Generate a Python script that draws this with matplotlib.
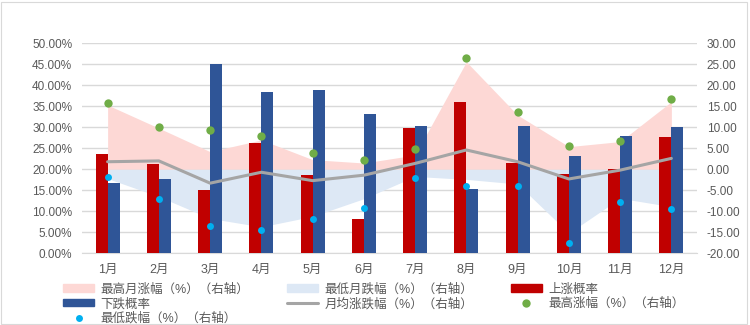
import numpy as np
import matplotlib
matplotlib.use('Agg')
import matplotlib.pyplot as plt
from matplotlib.patches import Rectangle
from matplotlib.ticker import FuncFormatter

plt.rcParams['font.family'] = ['Liberation Sans', 'Noto Sans CJK SC', 'DejaVu Sans']

months = ['1月', '2月', '3月', '4月', '5月', '6月', '7月', '8月', '9月', '10月', '11月', '12月']
up_prob = [23.6, 21.2, 15.0, 26.3, 18.6, 8.2, 29.9, 36.0, 21.5, 18.9, 20.1, 27.8]      # 上涨概率 %
down_prob = [16.8, 17.8, 45.0, 38.5, 39.0, 33.1, 30.3, 15.4, 30.3, 23.1, 28.0, 30.1]   # 下跌概率 %
max_month = [15.3, 9.8, 4.2, 7.0, 2.3, 1.5, 3.4, 25.6, 12.9, 5.4, 6.6, 16.1]           # 最高月涨幅 (右轴)
min_month = [-2.2, -6.5, -11.7, -13.7, -11.2, -7.0, -1.7, -2.4, -3.5, -15.2, -6.9, -8.9]  # 最低月跌幅 (右轴)
avg_chg = [1.8, 2.0, -3.3, -0.7, -2.7, -1.4, 1.4, 4.6, 1.8, -2.3, -0.2, 2.6]           # 月均涨跌幅 (右轴)
max_gain = [15.8, 10.1, 9.4, 7.9, 3.8, 2.1, 4.8, 26.4, 13.7, 5.6, 6.7, 16.7]           # 最高涨幅 (右轴)
min_loss = [-1.8, -7.1, -13.4, -14.4, -11.8, -9.1, -2.1, -4.0, -3.9, -17.5, -7.9, -9.5]  # 最低跌幅 (右轴)

x = np.arange(len(months))
txt = '#595959'
grid_c = '#D9D9D9'

fig = plt.figure(figsize=(7.5, 3.25), dpi=100)
fig.add_artist(Rectangle((1/750, 1.5/325), 746/750, 321.5/325, transform=fig.transFigure,
                         fill=False, edgecolor='#D9D9D9', lw=0.8))

pos = [82/750, 1-253.3/325, 615/750, 210/325]

# right axis: areas + grid
ax_r = fig.add_axes(pos)
ax_r.fill_between(x, 0, max_month, color='#FDD8D5', lw=0, zorder=1)
ax_r.fill_between(x, 0, min_month, color='#DDE8F5', lw=0, zorder=1)
ax_r.set_ylim(-20, 30)
ax_r.set_yticks(np.arange(-20, 31, 5))
ax_r.yaxis.set_major_formatter(FuncFormatter(lambda v, p: '%.2f' % v))
ax_r.grid(axis='y', color=grid_c, lw=1, zorder=0)
ax_r.set_axisbelow(True)
ax_r.set_xlim(-0.5, 11.5)
ax_r.set_xticks(x)
ax_r.set_xticklabels(months)
for s in ax_r.spines.values():
    s.set_visible(False)
ax_r.spines['bottom'].set_visible(True)
ax_r.spines['bottom'].set_color(grid_c)

# left axis: bars
ax_l = ax_r.twinx()
w = 0.235
ax_l.bar(x - w/2, up_prob, w, color='#C00000', zorder=2)
ax_l.bar(x + w/2, down_prob, w, color='#2F5597', zorder=2)
ax_l.set_ylim(0, 50)
ax_l.set_yticks(np.arange(0, 51, 5))
ax_l.yaxis.set_major_formatter(FuncFormatter(lambda v, p: '%.2f%%' % v))
for s in ax_l.spines.values():
    s.set_visible(False)

# top layer: line and dots on right scale
ax_t = ax_r.twinx()
ax_t.set_ylim(-20, 30)
ax_t.set_xlim(-0.5, 11.5)
ln, = ax_t.plot(x, avg_chg, color='#A5A5A5', lw=2.2, solid_capstyle='round')
dg, = ax_t.plot(x, max_gain, 'o', color='#70AD47', ms=6, mec='none')
db, = ax_t.plot(x, min_loss, 'o', color='#00B0F0', ms=5, mec='none')
ax_t.axis('off')

# tick sides (twinx resets them, so set at the end)
ax_r.yaxis.tick_right()
ax_l.yaxis.tick_left()
ax_r.tick_params(axis='both', length=0, labelcolor=txt, labelsize=8.5)
ax_r.tick_params(axis='y', pad=7)
ax_r.tick_params(axis='x', pad=8, labelsize=9)
ax_l.tick_params(axis='y', length=0, labelcolor=txt, labelsize=8.5, pad=7)

h_max = Rectangle((0, 0), 1, 1, color='#FDD8D5')
h_min = Rectangle((0, 0), 1, 1, color='#DDE8F5')
h_up = Rectangle((0, 0), 1, 1, color='#C00000')
h_dn = Rectangle((0, 0), 1, 1, color='#2F5597')
handles = [h_max, h_min, h_up, h_dn, ln, dg, db]
labels = ['最高月涨幅（%）（右轴）', '最低月跌幅（%）（右轴）', '上涨概率', '下跌概率',
          '月均涨跌幅（%）（右轴）', '最高涨幅（%）（右轴）', '最低跌幅（%）（右轴）']
order = [0, 3, 6, 1, 4, 2, 5]
fig.legend([handles[i] for i in order], [labels[i] for i in order], ncol=3,
           loc='upper left', bbox_to_anchor=(63/750, 1-283/325), frameon=False,
           fontsize=9, labelcolor=txt, handlelength=2.5, handleheight=0.5,
           handletextpad=0.5, columnspacing=3.0, labelspacing=0.18,
           borderpad=0, borderaxespad=0)

fig.savefig('out.png', dpi=100)
